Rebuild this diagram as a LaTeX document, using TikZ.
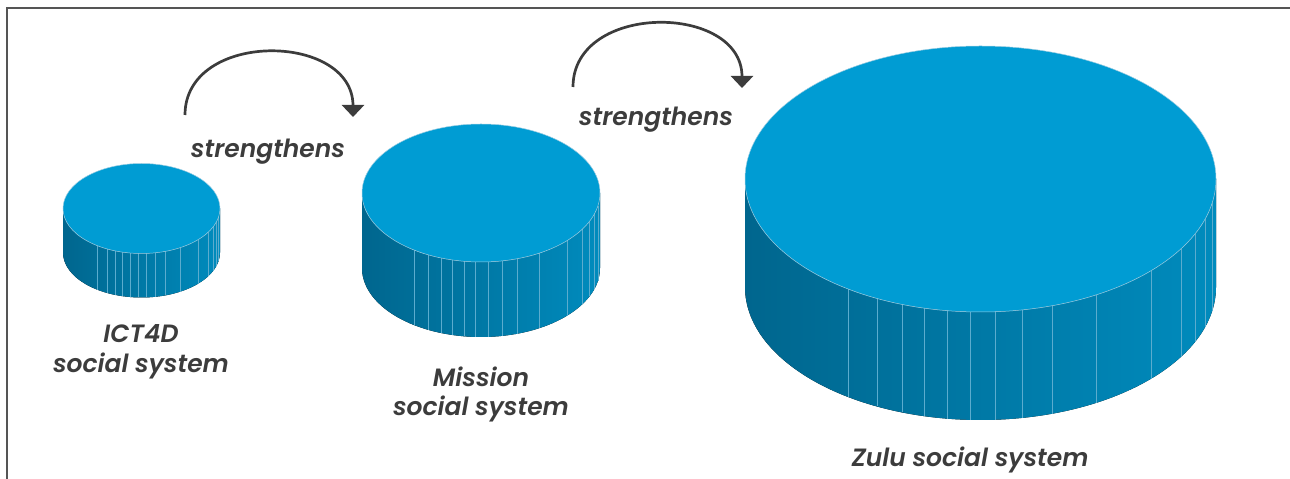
\documentclass[tikz,border=0pt]{standalone}
\usepackage{fontspec}
\setmainfont{Poppins}[BoldFont=* SemiBold, BoldItalicFont=* SemiBold Italic]
\usetikzlibrary{arrows.meta}

\definecolor{tapa}{RGB}{0,156,211}
\definecolor{ladoosc}{RGB}{0,102,142}
\definecolor{ladoclaro}{RGB}{0,139,189}
\definecolor{raya}{RGB}{92,172,206}
\definecolor{texto}{RGB}{60,60,60}
\definecolor{marco}{RGB}{85,85,85}

\tikzset{
  etiqueta/.style={font=\fontsize{25}{30}\selectfont\bfseries\itshape, text=texto, inner sep=0pt, align=center},
  flecha/.style={draw=texto, line width=2.7pt, -{Triangle[width=22pt,length=12pt]}},
}

% cilindro: x y del centro de la tapa, radio x, radio y, altura
\newcommand{\cilindro}[5]{%
  \fill[left color=ladoosc, right color=ladoclaro]
    (#1-#3,#2) -- ++(0,-#5)
    arc[start angle=180, end angle=360, x radius=#3, y radius=#4]
    -- ++(0,#5)
    arc[start angle=0, end angle=-180, x radius=#3, y radius=#4] -- cycle;
  \foreach \u in {-0.563,-0.44,-0.333,-0.24,-0.142,-0.045,0.062,0.176,0.304,0.49,0.724,0.851,0.911,0.954,0.983}
    \draw[raya, line width=0.5pt] ({#1+\u*#3},{#2-#4*sqrt(1-\u*\u)}) -- ++(0,-#5);
  \filldraw[fill=tapa, draw=raya!60!white, line width=0.5pt] (#1,#2) ellipse [x radius=#3, y radius=#4];
}

\begin{document}
\begin{tikzpicture}[x=1pt, y=1pt]
                    \useasboundingbox (0,0) rectangle (1290,479);
                    % Marco
                    \draw [marco, line width=2pt] (6.5,0) -- (6.5,470.5) -- (1290,470.5);
                    % Cilindros
                    \cilindro{141.5}{270.5}{78.5}{45}{44}
                    \cilindro{481}{286}{119}{69}{75}
                    \cilindro{980.5}{300}{235.5}{133}{108}
                    % Etiquetas
                    \node [etiqueta, anchor=base] (ict) at (141,106) {ICT4D\\social system};
                    \node [etiqueta, anchor=base] (mission) at (481,63) {Mission\\social system};
                    \node [etiqueta, anchor=base] (zulu) at (970,12) {Zulu social system};
                    \node [etiqueta, anchor=base] (str1) at (268,321) {strengthens};
                    \node [etiqueta, anchor=base] (str2) at (656,353) {strengthens};
                    % Flechas
                    \coordinate (f1a) at (185,364);
                    \coordinate (f1b) at (353,362);
                    \draw [flecha] (f1a) .. controls +(0,85) and +(0,85) .. (f1b);
                    \coordinate (f2a) at (573,392);
                    \coordinate (f2b) at (742,391);
                    \draw [flecha] (f2a) .. controls +(0,85) and +(0,85) .. (f2b);
                \end{tikzpicture}
\end{document}
